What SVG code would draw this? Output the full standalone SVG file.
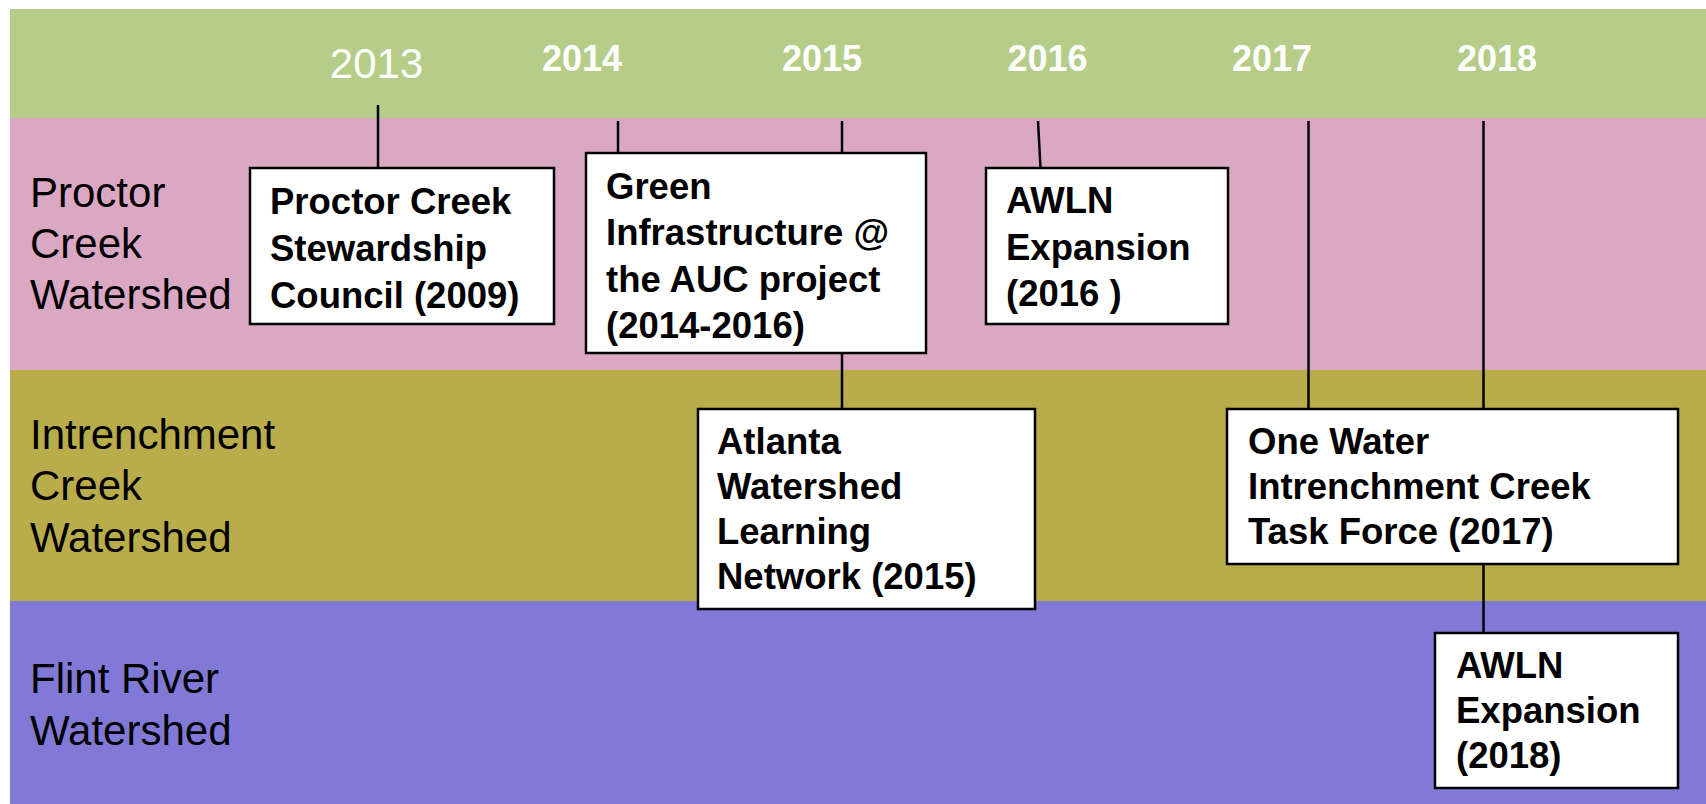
<svg xmlns="http://www.w3.org/2000/svg" width="1706" height="804" viewBox="0 0 1706 804">
<style>
.lane-label{font-family:"Liberation Sans",Arial,sans-serif;font-size:42px;fill:#000}
.year{font-family:"Liberation Sans",Arial,sans-serif;font-size:36px;font-weight:bold;fill:#fff;text-anchor:middle}
.year-reg{font-family:"Liberation Sans",Arial,sans-serif;font-size:42px;fill:#fff;text-anchor:middle}
.box{fill:#fff;stroke:#000;stroke-width:2.5}
.box-text{font-family:"Liberation Sans",Arial,sans-serif;font-size:36.5px;font-weight:bold;fill:#000}
.conn{stroke:#000;stroke-width:2.5;fill:none}
</style>
<rect width="1706" height="804" fill="#fff"/>
<g id="lanes">
<rect x="10" y="9" width="1696" height="109" fill="#B5CD88"/>
<rect x="10" y="118" width="1696" height="252" fill="#DBA8C3"/>
<rect x="10" y="370" width="1696" height="231" fill="#B9AC4B"/>
<rect x="10" y="601" width="1696" height="203" fill="#807AD6"/>
</g>
<g id="lane-labels">
<text class="lane-label" x="30" y="207">Proctor</text>
<text class="lane-label" x="30" y="258">Creek</text>
<text class="lane-label" x="30" y="309">Watershed</text>
<text class="lane-label" x="30" y="449">Intrenchment</text>
<text class="lane-label" x="30" y="500">Creek</text>
<text class="lane-label" x="30" y="552">Watershed</text>
<text class="lane-label" x="30" y="693">Flint River</text>
<text class="lane-label" x="30" y="745">Watershed</text>
</g>
<g id="years">
<text class="year-reg" x="376.5" y="78">2013</text>
<text class="year" x="582" y="71">2014</text>
<text class="year" x="822" y="71">2015</text>
<text class="year" x="1047.5" y="71">2016</text>
<text class="year" x="1272" y="71">2017</text>
<text class="year" x="1497" y="71">2018</text>
</g>
<g id="connectors">
<line class="conn" x1="378" y1="105" x2="378" y2="168"/>
<line class="conn" x1="618" y1="121" x2="618" y2="153"/>
<line class="conn" x1="842" y1="121" x2="842" y2="153"/>
<line class="conn" x1="842" y1="353" x2="842" y2="409"/>
<line class="conn" x1="1038" y1="121" x2="1040.5" y2="168"/>
<line class="conn" x1="1308.5" y1="121" x2="1308.5" y2="409"/>
<line class="conn" x1="1483.5" y1="121" x2="1483.5" y2="409"/>
<line class="conn" x1="1483.5" y1="564" x2="1483.5" y2="633"/>
</g>
<g id="node-proctor">
<rect class="box" x="250" y="168" width="304" height="156"/>
<text class="box-text" x="270" y="214">Proctor Creek</text>
<text class="box-text" x="270" y="261">Stewardship</text>
<text class="box-text" x="270" y="308">Council (2009)</text>
</g>
<g id="node-green">
<rect class="box" x="586" y="153" width="340" height="200"/>
<text class="box-text" x="606" y="199">Green</text>
<text class="box-text" x="606" y="245">Infrastructure @</text>
<text class="box-text" x="606" y="292">the AUC project</text>
<text class="box-text" x="606" y="338">(2014-2016)</text>
</g>
<g id="node-awln2016">
<rect class="box" x="986" y="168" width="242" height="156"/>
<text class="box-text" x="1006" y="213">AWLN</text>
<text class="box-text" x="1006" y="260">Expansion</text>
<text class="box-text" x="1006" y="306">(2016 )</text>
</g>
<g id="node-atlanta">
<rect class="box" x="698" y="409" width="337" height="200"/>
<text class="box-text" x="717" y="454">Atlanta</text>
<text class="box-text" x="717" y="499">Watershed</text>
<text class="box-text" x="717" y="544">Learning</text>
<text class="box-text" x="717" y="589">Network (2015)</text>
</g>
<g id="node-onewater">
<rect class="box" x="1227" y="409" width="451" height="155"/>
<text class="box-text" x="1248" y="454">One Water</text>
<text class="box-text" x="1248" y="499">Intrenchment Creek</text>
<text class="box-text" x="1248" y="544">Task Force (2017)</text>
</g>
<g id="node-awln2018">
<rect class="box" x="1435" y="633" width="243" height="155"/>
<text class="box-text" x="1456" y="678">AWLN</text>
<text class="box-text" x="1456" y="723">Expansion</text>
<text class="box-text" x="1456" y="768">(2018)</text>
</g>
</svg>
